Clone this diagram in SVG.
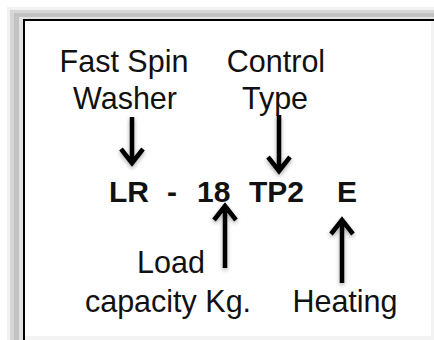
<svg xmlns="http://www.w3.org/2000/svg" width="434" height="340" viewBox="0 0 434 340">
<style>
.lbl{font-family:"Liberation Sans",Arial,Helvetica,sans-serif;font-size:30.5px;fill:#111;text-anchor:middle}
.code{font-family:"Liberation Sans",Arial,Helvetica,sans-serif;font-size:30px;font-weight:bold;fill:#111}
.arr{fill:none;stroke:#000;stroke-width:4.5;stroke-linecap:butt;stroke-linejoin:miter}
</style>
<defs>
<filter id="sh" x="-50%" y="-20%" width="200%" height="140%">
<feGaussianBlur in="SourceAlpha" stdDeviation="2"/>
<feOffset dx="0" dy="2" result="b"/>
<feComponentTransfer><feFuncA type="linear" slope="0.35"/></feComponentTransfer>
<feMerge><feMergeNode/><feMergeNode in="SourceGraphic"/></feMerge>
</filter>
</defs>
<rect width="434" height="340" fill="#ffffff"/>
<g id="frame">
<rect x="7" y="7" width="440" height="340" fill="#f1f1f1"/>
<rect x="10" y="10" width="440" height="340" fill="#d6d6d6"/>
<rect x="14" y="13" width="440" height="340" fill="#c3c3c3"/>
<rect x="19" y="17" width="440" height="340" fill="#e2e2e2"/>
<rect x="23" y="19" width="440" height="340" fill="#000"/>
<rect x="25" y="21" width="440" height="340" fill="#f3f3f3"/>
<rect x="25" y="21" width="406" height="315" fill="#ffffff"/>
</g>
<g id="code">
<text class="code" x="109" y="202">LR</text>
<text class="code" x="167" y="202">-</text>
<text class="code" x="197" y="202">18</text>
<text class="code" x="249" y="202">TP2</text>
<text class="code" x="337" y="202">E</text>
</g>
<g id="fast-spin-washer">
<text class="lbl" x="124" y="72">Fast Spin</text>
<text class="lbl" x="125" y="109">Washer</text>
</g>
<g id="control-type">
<text class="lbl" x="276" y="72">Control</text>
<text class="lbl" x="275" y="109">Type</text>
</g>
<g id="load-capacity">
<text class="lbl" x="171" y="273">Load</text>
<text class="lbl" x="168" y="312">capacity Kg.</text>
</g>
<g id="heating">
<text class="lbl" x="345" y="312">Heating</text>
</g>
<g id="connectors" filter="url(#sh)">
<path class="arr" d="M132 117 V162 M121 149 L132 163 L143 149"/>
<path class="arr" d="M279 115 V170 M268 157 L279 171 L290 157"/>
<path class="arr" d="M225 268 V207 M214 220 L225 206 L236 220"/>
<path class="arr" d="M342 283 V221 M331 234 L342 220 L353 234"/>
</g>
</svg>
